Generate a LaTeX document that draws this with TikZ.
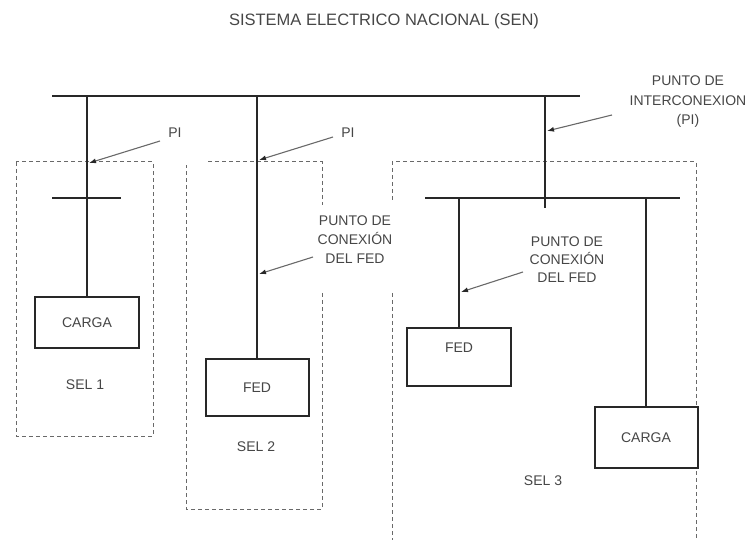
\documentclass[tikz,border=0pt]{standalone}
\usepackage{fontspec}
\setmainfont{Liberation Sans}
\usepackage{xcolor}
\definecolor{senline}{RGB}{40,40,40}
\definecolor{sendash}{RGB}{105,105,105}
\definecolor{sentext}{RGB}{70,70,70}
\usetikzlibrary{arrows.meta}

\tikzset{
  busbar/.style={draw=senline, line width=2.2pt},
  feeder/.style={draw=senline, line width=1.6pt},
  selbox/.style={draw=sendash, line width=1pt, dash pattern=on 4pt off 3pt},
  unitbox/.style={draw=senline, line width=2pt, fill=white, inner sep=0pt,
                  font=\fontsize{14}{16}\selectfont, text=sentext},
  callout/.style={font=\fontsize{14}{19}\selectfont, text=sentext, align=center, inner sep=0pt},
  pointer/.style={draw=sendash, line width=1.1pt, -{Latex[length=7pt,width=5pt,color=senline]}},
}

\begin{document}
\begin{tikzpicture}[x=1pt, y=-1pt]
  \useasboundingbox (0,0) rectangle (753,540);

  % Title
  \node[callout, font=\fontsize{16.5}{19}\selectfont] (title) at (384,21) {SISTEMA ELECTRICO NACIONAL (SEN)};

  % Main bus
  \coordinate (busW) at (52,96);
  \coordinate (busE) at (580,96);
  \draw[busbar] (busW) -- (busE);
  \coordinate (tapA) at (87,96);
  \coordinate (tapB) at (257,96);
  \coordinate (tapC) at (545,96);

  % SEL 1
  \draw[selbox] (16,162) rectangle (153,436);
  \node[unitbox, minimum width=104, minimum height=51] (cargaA) at (87,322.5) {CARGA};
  \coordinate (barAW) at (52,198);
  \coordinate (barAE) at (121,198);
  \draw[feeder] (tapA) -- (cargaA.north);
  \draw[busbar, line width=1.8pt] (barAW) -- (barAE);
  \node[callout] (selA) at (85,385) {SEL 1};
  \node[callout] (piA) at (175,133) {PI};
  \coordinate (piAtail) at (160,141);
  \coordinate (piAtip) at (89,163);
  \draw[pointer] (piAtail) -- (piAtip);

  % SEL 2
  \draw[selbox] (208,162) -- (322,162) -- (322,205);
  \draw[selbox] (322,293) -- (322,509) -- (186,509) -- (186,165);
  \node[unitbox, minimum width=103, minimum height=57] (fedB) at (257,387.5) {FED};
  \draw[feeder] (tapB) -- (fedB.north);
  \node[callout] (selB) at (256,447) {SEL 2};
  \node[callout] (piB) at (348,133) {PI};
  \coordinate (piBtail) at (333,137);
  \coordinate (piBtip) at (259,160);
  \draw[pointer] (piBtail) -- (piBtip);
  \node[callout] (conB) at (355,240) {PUNTO DE\\CONEXIÓN\\DEL FED};
  \coordinate (conBtail) at (313,257);
  \coordinate (conBtip) at (259,274);
  \draw[pointer] (conBtail) -- (conBtip);

  % SEL 3
  \draw[selbox] (392,200) -- (392,162) -- (696,162) -- (696,545);
  \draw[selbox] (392,293) -- (392,545);
  \coordinate (subW) at (425,198);
  \coordinate (subE) at (680,198);
  \coordinate (subC) at (545,208);
  \draw[busbar] (subW) -- (subE);
  \draw[feeder] (tapC) -- (subC);
  \node[unitbox, minimum width=104, minimum height=58, text depth=18pt] (fedC) at (459,357) {FED};
  \node[unitbox, minimum width=103, minimum height=61] (cargaC) at (646,437.5) {CARGA};
  \draw[feeder] (fedC.north |- subW) -- (fedC.north);
  \draw[feeder] (cargaC.north |- subW) -- (cargaC.north);
  \node[callout] (selC) at (543,481) {SEL 3};
  \node[callout, font=\fontsize{14}{18}\selectfont] (conC) at (567,260) {PUNTO DE\\CONEXIÓN\\DEL FED};
  \coordinate (conCtail) at (523,272);
  \coordinate (conCtip) at (461,292);
  \draw[pointer] (conCtail) -- (conCtip);

  % Interconnection point
  \node[callout, font=\fontsize{14}{19.5}\selectfont] (piC) at (688,102) {PUNTO DE\\INTERCONEXION\\(PI)};
  \coordinate (piCtail) at (612,115);
  \coordinate (piCtip) at (547,131);
  \draw[pointer] (piCtail) -- (piCtip);
\end{tikzpicture}
\end{document}
